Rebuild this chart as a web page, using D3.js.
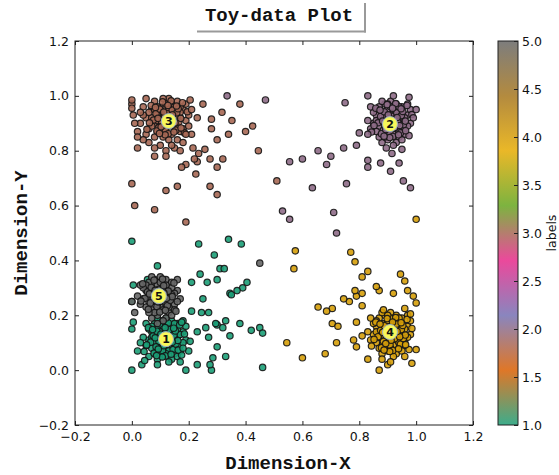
<!DOCTYPE html>
<html>
<head>
<meta charset="utf-8">
<script src="https://cdn.jsdelivr.net/npm/d3@7"></script>
<style>
  html, body { margin: 0; padding: 0; background: #fff; }
  svg { display: block; }
  .tick text { font-family: "DejaVu Sans", sans-serif; font-size: 12.5px; fill: #111; }
  .mono { font-family: "Liberation Mono", "Courier New", monospace; font-weight: bold; fill: #111; }
</style>
</head>
<body>
<svg id="chart" width="559" height="475"></svg>
<script>
// ---- data -------------------------------------------------------------
const labelIds = [1, 2, 3, 4, 5];
const axisTicks = [-0.2, 0.0, 0.2, 0.4, 0.6, 0.8, 1.0, 1.2];
const colorbarTicks = [1.0, 1.5, 2.0, 2.5, 3.0, 3.5, 4.0, 4.5, 5.0];
const dark2 = ["#1b9e77", "#d95f02", "#7570b3", "#e7298a", "#66a61e", "#e6ab02", "#a6761d", "#666666"];

// centroid positions per label
const centroids = [[0.12, 0.113], [0.908, 0.897], [0.13, 0.908], [0.908, 0.139], [0.095, 0.27]];

const points1 = [
  [0.12,0.11],[0.10,0.13],[0.14,0.09],[0.08,0.10],[0.16,0.12],[0.11,0.16],[0.13,0.15],[0.09,0.07],[0.15,0.06],[0.07,0.14],
  [0.17,0.09],[0.12,0.08],[0.10,0.18],[0.14,0.18],[0.06,0.11],[0.18,0.14],[0.11,0.05],[0.13,0.12],[0.09,0.15],[0.15,0.14],
  [0.07,0.08],[0.16,0.17],[0.12,0.19],[0.08,0.17],[0.14,0.04],[0.10,0.10],[0.17,0.07],[0.05,0.09],[0.13,0.07],[0.19,0.11],
  [0.11,0.13],[0.09,0.04],[0.16,0.15],[0.07,0.16],[0.15,0.11],[0.12,0.14],[0.08,0.12],[0.14,0.16],[0.10,0.06],[0.18,0.18],
  [0.06,0.15],[0.13,0.10],[0.11,0.09],[0.17,0.13],[0.09,0.19],[0.15,0.08],[0.12,0.17],[0.04,0.12],[0.18,0.10],[0.10,0.14],
  [0.14,0.13],[0.08,0.06],[0.16,0.05],[0.11,0.18],[0.13,0.03],[0.07,0.12],[0.19,0.16],[0.05,0.17],[0.12,0.06],[0.15,0.17],
  [0.03,0.10],[0.06,0.05],[0.09,0.02],[0.17,0.03],[0.20,0.07],
  [0.105,0.125],[0.125,0.095],[0.095,0.105],[0.135,0.115],[0.115,0.135],[0.085,0.085],[0.145,0.075],[0.075,0.125],[0.155,0.095],[0.108,0.072],
  [0.132,0.148],[0.088,0.142],[0.148,0.128],[0.066,0.102],[0.162,0.108],[0.118,0.052],[0.078,0.062],[0.138,0.058],[0.098,0.168],[0.128,0.172],
  [0.058,0.155],[0.168,0.165],[0.052,0.092],[0.175,0.055],[0.122,0.115],[0.102,0.131],[0.142,0.102],[0.082,0.118],[0.112,0.089],[0.133,0.121],
  [0.093,0.077],[0.153,0.143],[0.073,0.148],[0.163,0.073],[0.043,0.068],[0.185,0.132],[0.117,0.155],[0.107,0.048],[0.147,0.153],[0.087,0.053],
  [0.005,0.31],[0.0,0.25],[0.005,0.175],[0.0,0.15],[0.055,0.33],[0.21,0.32],[0.24,0.35],[0.265,0.32],[0.30,0.33],[0.345,0.28],
  [0.21,0.215],[0.245,0.21],[0.175,0.175],[0.33,0.18],[0.30,0.165],[0.27,0.12],[0.23,0.14],[0.205,0.105],[0.33,0.05],[0.23,0.02],
  [0.19,0.0],[0.28,0.0],[0.0,0.0],[0.035,0.02],[0.045,0.035],[0.02,0.07],
  [0.0,0.47],[0.09,0.38],[0.235,0.46],[0.34,0.477],[0.385,0.46],[0.29,0.42],[0.31,0.37],[0.39,0.30],[0.37,0.29],[0.405,0.32],
  [0.35,0.275],[0.25,0.26],[0.27,0.21],[0.295,0.17],[0.26,0.155],[0.32,0.155],[0.38,0.17],[0.42,0.145],[0.45,0.155],[0.46,0.135],
  [0.345,0.125],[0.30,0.085],[0.285,0.045],[0.275,0.02],[0.46,0.01],[0.18,0.08],[0.325,0.37]
];

const points2 = [
  [0.91,0.90],[0.89,0.92],[0.93,0.88],[0.87,0.89],[0.95,0.91],[0.90,0.95],[0.92,0.94],[0.88,0.86],[0.94,0.85],[0.86,0.93],
  [0.96,0.88],[0.91,0.87],[0.89,0.97],[0.93,0.97],[0.85,0.90],[0.97,0.93],[0.90,0.84],[0.92,0.91],[0.88,0.94],[0.94,0.93],
  [0.86,0.87],[0.95,0.96],[0.91,0.98],[0.87,0.96],[0.93,0.83],[0.89,0.89],[0.96,0.86],[0.84,0.88],[0.92,0.86],[0.98,0.90],
  [0.90,0.92],[0.88,0.83],[0.95,0.94],[0.86,0.95],[0.94,0.90],[0.91,0.93],[0.87,0.91],[0.93,0.95],[0.89,0.85],[0.97,0.97],
  [0.85,0.94],[0.92,0.89],[0.90,0.88],[0.96,0.92],[0.88,0.98],[0.94,0.87],[0.91,0.96],[0.83,0.91],[0.97,0.89],[0.89,0.93],
  [0.93,0.92],[0.87,0.85],[0.95,0.84],[0.90,0.97],[0.92,0.82],[0.86,0.91],[0.98,0.95],[0.84,0.96],[0.91,0.85],[0.94,0.96],
  [0.905,0.915],[0.925,0.885],[0.895,0.895],[0.935,0.905],[0.915,0.925],[0.885,0.875],[0.945,0.865],[0.875,0.925],[0.955,0.895],[0.908,0.862],
  [0.932,0.938],[0.888,0.942],[0.948,0.928],[0.866,0.902],[0.962,0.908],[0.918,0.852],[0.878,0.862],[0.938,0.858],[0.898,0.968],[0.928,0.972],
  [0.858,0.955],[0.968,0.965],[0.852,0.892],[0.975,0.855],[0.922,0.915],[0.902,0.931],[0.942,0.892],[0.882,0.908],[0.912,0.889],[0.933,0.921],
  [0.893,0.877],[0.953,0.943],[0.873,0.948],[0.963,0.873],[0.843,0.868],[0.985,0.932],[0.917,0.955],[0.907,0.848],[0.947,0.953],[0.887,0.853],
  [0.75,0.975],[0.83,1.0],[0.92,1.0],[0.975,0.995],[1.0,0.95],[0.99,0.92],[0.80,0.865],[0.83,0.86],[0.895,0.81],[0.915,0.79],
  [0.95,0.805],[0.83,0.74],[0.875,0.755],[0.335,1.0],[0.47,0.985],
  [0.555,0.76],[0.60,0.77],[0.655,0.80],[0.70,0.78],[0.685,0.75],[0.745,0.81],[0.79,0.82],[0.83,0.765],[0.755,0.68],[0.635,0.665],
  [0.53,0.58],[0.555,0.55],[0.71,0.575],[0.72,0.50],[0.98,0.665],[0.955,0.69],[0.91,0.725],[0.94,0.755]
];

const points3 = [
  [0.13,0.91],[0.10,0.93],[0.15,0.94],[0.08,0.90],[0.12,0.88],[0.16,0.89],[0.11,0.96],[0.14,0.97],[0.07,0.95],[0.09,0.87],
  [0.17,0.92],[0.05,0.92],[0.12,0.94],[0.10,0.90],[0.14,0.86],[0.18,0.95],[0.06,0.88],[0.13,0.99],[0.08,0.98],[0.16,0.98],
  [0.11,0.85],[0.04,0.96],[0.15,0.90],[0.09,0.93],[0.12,0.91],[0.07,0.92],[0.17,0.87],[0.10,0.88],[0.14,0.93],[0.06,0.94],
  [0.19,0.91],[0.13,0.84],[0.08,0.85],[0.16,0.84],[0.03,0.90],[0.11,0.92],[0.18,0.88],[0.09,0.96],[0.15,0.96],[0.05,0.86],
  [0.12,0.97],[0.10,0.95],[0.20,0.93],[0.07,0.89],[0.14,0.89],[0.11,0.87],[0.17,0.96],[0.04,0.93],[0.09,0.91],[0.13,0.95],
  [0.02,0.87],[0.06,0.83],[0.10,0.82],[0.15,0.81],[0.18,0.83],[0.21,0.86],[0.20,0.89],[0.08,0.81],[0.12,0.80],[0.00,0.97],
  [0.03,0.94],[0.16,0.92],[0.19,0.97],[0.05,0.99],[0.14,0.82],[0.11,0.99],[0.17,0.94],[0.08,0.95],
  [0.115,0.925],[0.135,0.895],[0.105,0.905],[0.145,0.915],[0.125,0.935],[0.095,0.885],[0.155,0.875],[0.085,0.935],[0.165,0.905],[0.118,0.872],
  [0.142,0.948],[0.098,0.952],[0.158,0.938],[0.076,0.912],[0.172,0.918],[0.128,0.862],[0.088,0.872],[0.148,0.868],[0.108,0.978],[0.138,0.982],
  [0.068,0.965],[0.178,0.975],[0.062,0.902],[0.185,0.865],[0.132,0.925],[0.112,0.941],[0.152,0.902],[0.092,0.918],[0.122,0.899],[0.143,0.931],
  [0.103,0.887],[0.163,0.953],[0.083,0.958],[0.173,0.883],[0.053,0.878],[0.195,0.942],[0.127,0.965],[0.117,0.858],[0.157,0.963],[0.097,0.863],
  [0.01,0.90],[0.02,0.81],[0.04,0.84],[0.08,0.78],[0.12,0.78],[0.17,0.80],[0.19,0.86],[0.21,0.95],[0.25,0.97],[0.23,0.92],
  [0.215,0.81],[0.235,0.79],[0.23,0.76],[0.19,0.75],[0.28,0.915],[0.28,0.88],[0.30,0.84],[0.32,0.77],[0.34,0.86],[0.0,0.985],
  [0.0,0.955],[0.005,0.93],[0.02,0.85],
  [0.205,0.985],[0.317,0.94],[0.38,0.97],[0.425,0.89],[0.352,0.91],[0.40,0.87],[0.257,0.805],[0.275,0.77],[0.30,0.74],[0.22,0.77],
  [0.175,0.74],[0.16,0.67],[0.12,0.655],[0.225,0.715],[0.275,0.67],[0.30,0.64],[0.0,0.68],[0.01,0.60],[0.08,0.585],[0.19,0.54],
  [0.445,0.80],[0.51,0.69]
];

const points4 = [
  [0.91,0.13],[0.89,0.15],[0.93,0.11],[0.87,0.12],[0.95,0.14],[0.90,0.18],[0.92,0.17],[0.88,0.09],[0.94,0.08],[0.86,0.16],
  [0.96,0.11],[0.91,0.10],[0.89,0.20],[0.93,0.20],[0.85,0.13],[0.97,0.16],[0.90,0.07],[0.92,0.14],[0.88,0.17],[0.94,0.16],
  [0.86,0.10],[0.95,0.19],[0.91,0.21],[0.87,0.19],[0.93,0.06],[0.89,0.12],[0.96,0.09],[0.84,0.11],[0.92,0.09],[0.98,0.13],
  [0.90,0.15],[0.88,0.06],[0.95,0.17],[0.86,0.18],[0.94,0.13],[0.91,0.16],[0.87,0.14],[0.93,0.18],[0.89,0.08],[0.97,0.20],
  [0.85,0.17],[0.92,0.12],[0.90,0.11],[0.96,0.15],[0.88,0.21],[0.94,0.10],[0.91,0.19],[0.83,0.14],[0.97,0.12],[0.89,0.16],
  [0.93,0.15],[0.87,0.08],[0.95,0.07],[0.90,0.20],[0.92,0.05],[0.86,0.14],[0.98,0.18],[0.84,0.19],[0.91,0.08],[0.94,0.19],
  [0.88,0.04],[0.90,0.02],[0.96,0.05],
  [0.905,0.145],[0.925,0.115],[0.895,0.125],[0.935,0.135],[0.915,0.155],[0.885,0.105],[0.945,0.095],[0.875,0.145],[0.955,0.115],[0.908,0.092],
  [0.932,0.168],[0.888,0.162],[0.948,0.148],[0.866,0.122],[0.962,0.128],[0.918,0.072],[0.878,0.082],[0.938,0.078],[0.898,0.188],[0.928,0.192],
  [0.858,0.175],[0.968,0.185],[0.852,0.112],[0.975,0.075],[0.922,0.135],[0.902,0.151],[0.942,0.122],[0.882,0.138],[0.912,0.109],[0.933,0.141],
  [0.893,0.097],[0.953,0.163],[0.873,0.168],[0.963,0.093],[0.843,0.088],[0.985,0.152],[0.917,0.175],[0.907,0.068],[0.947,0.173],[0.887,0.073],
  [0.705,0.225],[0.765,0.25],[0.79,0.27],[0.81,0.28],[0.81,0.235],[0.87,0.29],[0.92,0.28],[0.99,0.27],[1.0,0.245],[0.98,0.205],
  [0.885,0.22],[0.96,0.225],[0.705,0.17],[0.79,0.175],[0.81,0.125],[0.78,0.11],[0.79,0.085],[0.72,0.10],[0.83,0.04],[0.87,0.0],
  [0.91,0.03],[0.985,0.025],[1.0,0.075],
  [0.575,0.435],[0.57,0.37],[0.545,0.10],[0.60,0.045],[0.68,0.06],[0.77,0.43],[0.655,0.23],[0.685,0.215],[0.745,0.26],[0.785,0.29],
  [0.81,0.34],[0.83,0.36],[0.86,0.305],[0.96,0.325],[0.97,0.29],[0.945,0.35],[0.785,0.395],[0.725,0.16],[1.0,0.55]
];

const points5 = [
  [0.10,0.26],[0.08,0.28],[0.12,0.24],[0.06,0.25],[0.14,0.27],[0.09,0.31],[0.11,0.30],[0.07,0.22],[0.13,0.21],[0.05,0.29],
  [0.15,0.24],[0.10,0.23],[0.08,0.33],[0.12,0.33],[0.04,0.26],[0.16,0.29],[0.09,0.20],[0.11,0.27],[0.07,0.30],[0.13,0.29],
  [0.05,0.23],[0.14,0.32],[0.10,0.34],[0.06,0.32],[0.12,0.19],[0.08,0.25],[0.15,0.22],[0.03,0.24],[0.11,0.22],[0.17,0.26],
  [0.09,0.28],[0.07,0.19],[0.14,0.30],[0.05,0.31],[0.13,0.26],[0.10,0.29],[0.06,0.27],[0.12,0.31],[0.08,0.21],[0.16,0.33],
  [0.04,0.30],[0.11,0.25],[0.09,0.24],[0.15,0.28],[0.07,0.34],[0.13,0.23],[0.10,0.32],[0.02,0.27],[0.16,0.25],[0.08,0.29],
  [0.12,0.28],[0.06,0.21],[0.14,0.20],[0.01,0.21],[0.03,0.31],[0.11,0.18],[0.09,0.17],[0.00,0.25],[0.14,0.275],
  [0.085,0.285],[0.105,0.255],[0.075,0.265],[0.115,0.275],[0.095,0.295],[0.065,0.245],[0.125,0.235],[0.055,0.285],[0.135,0.255],[0.088,0.232],
  [0.112,0.308],[0.068,0.302],[0.128,0.288],[0.046,0.262],[0.142,0.268],[0.098,0.212],[0.058,0.222],[0.118,0.218],[0.078,0.328],[0.108,0.332],
  [0.038,0.315],[0.148,0.318],[0.032,0.252],[0.155,0.215],[0.102,0.275],[0.082,0.291],[0.122,0.262],[0.062,0.278],[0.092,0.249],[0.113,0.281],
  [0.45,0.39]
];

const pointSets = [points1, points2, points3, points4, points5];

// ---- layout -----------------------------------------------------------
const plot = { left: 75, right: 473, top: 41, bottom: 425 };
const bar = { left: 498, right: 518, top: 41, bottom: 425 };

const svg = d3.select("#chart");

const x = d3.scaleLinear().domain([-0.2, 1.2]).range([plot.left, plot.right]);
const y = d3.scaleLinear().domain([-0.2, 1.2]).range([plot.bottom, plot.top]);

// continuous Dark2 colormap over the label range
const cmap = d3.scaleLinear()
  .domain(dark2.map((_, i) => 1 + 4 * i / (dark2.length - 1)))
  .range(dark2)
  .interpolate(d3.interpolateRgb);

// ---- scatter ----------------------------------------------------------
const allPoints = [];
labelIds.forEach((lab, i) => pointSets[i].forEach(p => allPoints.push({ x: p[0], y: p[1], label: lab })));

svg.append("g")
  .selectAll("circle")
  .data(allPoints)
  .join("circle")
  .attr("cx", d => x(d.x))
  .attr("cy", d => y(d.y))
  .attr("r", 3.2)
  .attr("fill", d => cmap(d.label))
  .attr("fill-opacity", 0.9)
  .attr("stroke", "#151515")
  .attr("stroke-opacity", 0.9)
  .attr("stroke-width", 1.2);

// centroid markers with their label numbers
const cg = svg.append("g")
  .selectAll("g")
  .data(labelIds.map((lab, i) => ({ label: lab, x: centroids[i][0], y: centroids[i][1] })))
  .join("g")
  .attr("transform", d => `translate(${x(d.x)},${y(d.y)})`);

cg.append("circle")
  .attr("r", 7.5)
  .attr("fill", "#f7f75a")
  .attr("stroke", "#9fb4c8")
  .attr("stroke-width", 1);

cg.append("text")
  .attr("text-anchor", "middle")
  .attr("dy", "0.36em")
  .style("font-family", "'DejaVu Sans', sans-serif")
  .style("font-weight", "bold")
  .style("font-size", "11px")
  .attr("fill", "#111")
  .text(d => d.label);

// ---- axes -------------------------------------------------------------
const fmt = d3.format(".1f");

const axB = svg.append("g").attr("transform", `translate(0,${plot.bottom})`)
  .call(d3.axisBottom(x).tickValues(axisTicks).tickFormat(fmt).tickSizeInner(-4).tickSizeOuter(0).tickPadding(7));
const axL = svg.append("g").attr("transform", `translate(${plot.left},0)`)
  .call(d3.axisLeft(y).tickValues(axisTicks).tickFormat(fmt).tickSizeInner(-4).tickSizeOuter(0).tickPadding(6));
const axT = svg.append("g").attr("transform", `translate(0,${plot.top})`)
  .call(d3.axisTop(x).tickValues(axisTicks).tickFormat("").tickSizeInner(-4).tickSizeOuter(0));
const axR = svg.append("g").attr("transform", `translate(${plot.right},0)`)
  .call(d3.axisRight(y).tickValues(axisTicks).tickFormat("").tickSizeInner(-4).tickSizeOuter(0));

[axB, axL, axT, axR].forEach(a => {
  a.select(".domain").remove();
  a.selectAll(".tick line").attr("stroke", "#222");
});

svg.append("rect")
  .attr("x", plot.left).attr("y", plot.top)
  .attr("width", plot.right - plot.left).attr("height", plot.bottom - plot.top)
  .attr("fill", "none").attr("stroke", "#222").attr("stroke-width", 1);

// ---- colorbar ---------------------------------------------------------
const defs = svg.append("defs");
const grad = defs.append("linearGradient")
  .attr("id", "cbar").attr("x1", 0).attr("y1", 1).attr("x2", 0).attr("y2", 0);
dark2.forEach((c, i) => grad.append("stop")
  .attr("offset", i / (dark2.length - 1))
  .attr("stop-color", c)
  .attr("stop-opacity", 0.85));

svg.append("rect")
  .attr("x", bar.left).attr("y", bar.top)
  .attr("width", bar.right - bar.left).attr("height", bar.bottom - bar.top)
  .attr("fill", "url(#cbar)")
  .attr("stroke", "#222").attr("stroke-width", 1);

const cy = d3.scaleLinear().domain([1, 5]).range([bar.bottom, bar.top]);
const axC = svg.append("g").attr("transform", `translate(${bar.right},0)`)
  .call(d3.axisRight(cy).tickValues(colorbarTicks).tickFormat(fmt).tickSizeInner(-4).tickSizeOuter(0).tickPadding(4));
axC.select(".domain").remove();
axC.selectAll(".tick line").attr("stroke", "#222");

svg.append("text")
  .attr("transform", `translate(556,${(bar.top + bar.bottom) / 2}) rotate(-90)`)
  .attr("text-anchor", "middle")
  .style("font-family", "'DejaVu Sans', sans-serif")
  .style("font-size", "12.5px")
  .attr("fill", "#111")
  .text("labels");

// ---- titles -----------------------------------------------------------
svg.append("text")
  .attr("class", "mono")
  .attr("x", 288).attr("y", 469)
  .attr("text-anchor", "middle")
  .style("font-size", "19px")
  .text("Dimension-X");

svg.append("text")
  .attr("class", "mono")
  .attr("transform", `translate(27,${(plot.top + plot.bottom) / 2}) rotate(-90)`)
  .attr("text-anchor", "middle")
  .style("font-size", "19px")
  .text("Dimension-Y");

// title with a shadowed box
const tg = svg.append("g");
tg.append("line").attr("x1", 197).attr("x2", 366).attr("y1", 31.5).attr("y2", 31.5)
  .attr("stroke", "#9a9a9a").attr("stroke-width", 2);
tg.append("line").attr("x1", 365).attr("x2", 365).attr("y1", 3).attr("y2", 32.5)
  .attr("stroke", "#9a9a9a").attr("stroke-width", 2);
tg.append("text")
  .attr("class", "mono")
  .attr("x", 279).attr("y", 21)
  .attr("text-anchor", "middle")
  .style("font-size", "19px")
  .text("Toy-data Plot");
</script>
</body>
</html>
